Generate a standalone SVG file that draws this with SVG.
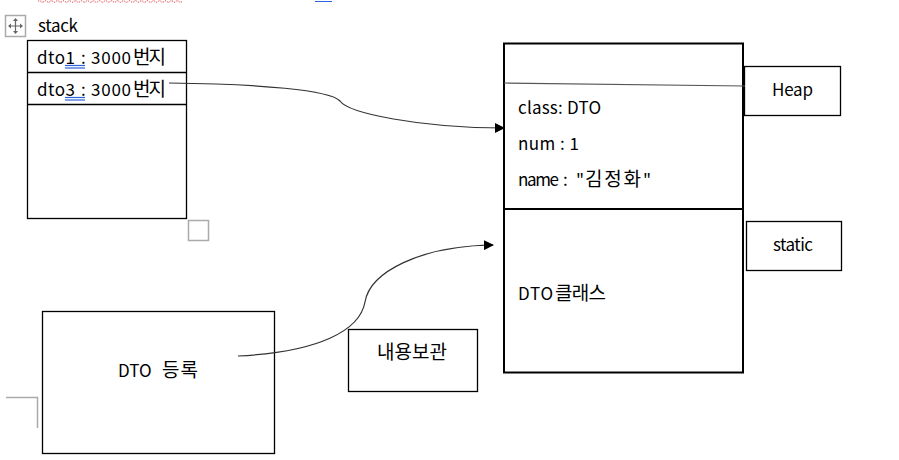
<svg xmlns="http://www.w3.org/2000/svg" width="899" height="460" viewBox="0 0 899 460">
<defs>
<style>
text{font-family:"Noto Sans CJK KR","Noto Sans",sans-serif;font-size:17px;fill:#000}
.ko{font-size:19px}
.box{fill:#fff;stroke:#000;stroke-width:1.3}
.thick{fill:#fff;stroke:#000;stroke-width:2}
.conn{fill:none;stroke:#333;stroke-width:1.2}
.ul{stroke:#2e62d9;stroke-width:1.2}
.gray{fill:none;stroke:#aaa;stroke-width:1.5}
</style>
<marker id="arr" markerWidth="10" markerHeight="10" refX="9" refY="5" orient="auto" markerUnits="userSpaceOnUse">
<path d="M0,0 L10,5 L0,10 Z" fill="#000"/>
</marker>
</defs>
<rect width="899" height="460" fill="#fff"/>
<path d="M38,1.5 q1.5,-1.5 3,0 q1.5,1.5 3,0 q1.5,-1.5 3,0 q1.5,1.5 3,0 q1.5,-1.5 3,0 q1.5,1.5 3,0 q1.5,-1.5 3,0 q1.5,1.5 3,0 q1.5,-1.5 3,0 q1.5,1.5 3,0 q1.5,-1.5 3,0 q1.5,1.5 3,0 q1.5,-1.5 3,0 q1.5,1.5 3,0 q1.5,-1.5 3,0 q1.5,1.5 3,0 q1.5,-1.5 3,0 q1.5,1.5 3,0 q1.5,-1.5 3,0 q1.5,1.5 3,0 q1.5,-1.5 3,0 q1.5,1.5 3,0 q1.5,-1.5 3,0 q1.5,1.5 3,0 q1.5,-1.5 3,0 q1.5,1.5 3,0 q1.5,-1.5 3,0 q1.5,1.5 3,0 q1.5,-1.5 3,0 q1.5,1.5 3,0 q1.5,-1.5 3,0 q1.5,1.5 3,0 q1.5,-1.5 3,0 q1.5,1.5 3,0 q1.5,-1.5 3,0 q1.5,1.5 3,0 q1.5,-1.5 3,0 q1.5,1.5 3,0 q1.5,-1.5 3,0 q1.5,1.5 3,0 q1.5,-1.5 3,0 q1.5,1.5 3,0 q1.5,-1.5 3,0 q1.5,1.5 3,0 q1.5,-1.5 3,0 q1.5,1.5 3,0 q1.5,-1.5 3,0 q1.5,1.5 3,0" fill="none" stroke="#e02020" stroke-width="1" stroke-dasharray="1,1"/>
<line x1="315" y1="1.5" x2="332" y2="1.5" stroke="#2e62d9" stroke-width="1"/>

<g id="stack">
<rect x="5.5" y="15.5" width="20" height="21" fill="#fff" stroke="#aaa" stroke-width="1.5"/>
<path d="M15.5,19 v14 M9,26 h13" stroke="#666" stroke-width="1.2"/>
<path d="M15.5,18 l-2.5,3 h5 z M15.5,34 l-2.5,-3 h5 z M8,26 l3,-2.5 v5 z M23,26 l-3,-2.5 v5 z" fill="#666"/>
<text x="38" y="32" textLength="40">stack</text>
<rect class="box" x="27.5" y="40.5" width="159" height="178" stroke-width="1.5"/>
<line x1="27.5" y1="72.5" x2="186.5" y2="72.5" stroke="#000" stroke-width="1.3"/>
<line x1="27.5" y1="104.5" x2="186.5" y2="104.5" stroke="#000" stroke-width="1.3"/>
<text x="37" y="64"><tspan textLength="38">dto1</tspan><tspan x="81">:</tspan><tspan x="91" textLength="40">3000</tspan><tspan x="133" class="ko" textLength="33">번지</tspan></text>
<line class="ul" x1="65" y1="65.5" x2="85" y2="65.5"/><line class="ul" x1="65" y1="68" x2="85" y2="68"/>
<text x="37" y="96"><tspan textLength="38">dto3</tspan><tspan x="81">:</tspan><tspan x="91" textLength="40">3000</tspan><tspan x="133" class="ko" textLength="33">번지</tspan></text>
<line class="ul" x1="65" y1="97.5" x2="85" y2="97.5"/><line class="ul" x1="65" y1="100" x2="85" y2="100"/>
<rect x="188.5" y="220.5" width="20" height="20" fill="#fff" stroke="#aaa" stroke-width="1.5"/>
</g>

<g id="memory">
<rect class="thick" x="504" y="43.5" width="239" height="329"/>
<line x1="504" y1="209" x2="743" y2="209" stroke="#000" stroke-width="2"/>
<text x="518" y="114" textLength="83">class: DTO</text>
<text x="518" y="150" textLength="61">num : 1</text>
<text x="518" y="186"><tspan textLength="41">name</tspan><tspan x="563">:</tspan><tspan x="576">"</tspan><tspan x="585" class="ko" textLength="56">김정화</tspan><tspan x="643">"</tspan></text>
<text x="518" y="300"><tspan textLength="35">DTO</tspan><tspan x="555" class="ko" textLength="51">클래스</tspan></text>
</g>

<g id="heap">
<rect class="box" x="744.5" y="66.5" width="96" height="49"/>
<text x="772" y="96" textLength="41">Heap</text>
</g>

<g id="static">
<rect class="box" x="746.5" y="221.5" width="95" height="49"/>
<text x="773" y="251" textLength="40">static</text>
</g>

<g id="dto-register">
<rect class="box" x="42.5" y="311.5" width="232" height="142"/>
<text x="118" y="377"><tspan>DTO</tspan><tspan x="162" class="ko" textLength="36">등록</tspan></text>
</g>

<g id="storage">
<rect class="box" x="348.5" y="329.5" width="129" height="62"/>
<text x="377" y="359" class="ko" textLength="70">내용보관</text>
</g>

<path d="M6,397.5 H37.5 V428" class="gray"/>

<g id="connectors">
<line x1="504" y1="83" x2="745" y2="86" stroke="#555" stroke-width="1.2"/>
<path class="conn" d="M169,83 C260,84 330,90 340,101 C348,113 420,128 504,128" marker-end="url(#arr)"/>
<path class="conn" d="M238,356 C320,352 360,330 365,302 C370,272 420,246 493,245" marker-end="url(#arr)"/>
</g>
</svg>
